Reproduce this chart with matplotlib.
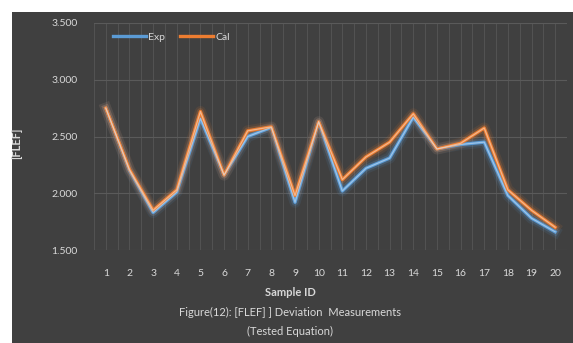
import numpy as np
import matplotlib
matplotlib.use("Agg")
import matplotlib.pyplot as plt
from matplotlib.patches import Rectangle
from matplotlib.ticker import FuncFormatter

plt.rcParams["font.family"] = ["Lato", "DejaVu Sans"]

# ---------------------------------------------------------------------------
# Data: FLEF per sample, measured vs calculated
# ---------------------------------------------------------------------------
sample_ids = list(range(1, 21))
flef_exp = [2750, 2200, 1830, 2010, 2660, 2160, 2500, 2580, 1920, 2630,
            2020, 2220, 2310, 2670, 2390, 2430, 2450, 1980, 1780, 1660]
flef_cal = [2750, 2210, 1850, 2030, 2720, 2160, 2550, 2585, 1980, 2630,
            2120, 2320, 2450, 2700, 2390, 2440, 2575, 2030, 1850, 1700]

BG = "#404040"
TXT = "#d9d9d9"
BLUE = "#5b9bd5"
ORANGE = "#ed7d31"


def thousands_dot(v, _pos):
    return f"{v:,.0f}".replace(",", ".")


fig = plt.figure(figsize=(5.73, 3.43), dpi=100, facecolor="white")
# dark chart area, leaving a thin white margin on top and left
fig.patches.append(Rectangle((12 / 573, 0), 1, 1 - 12 / 343,
                             transform=fig.transFigure, facecolor=BG,
                             edgecolor="none", zorder=-10))

ax = fig.add_axes([94 / 573, 1 - 250 / 343, (567 - 94) / 573, (250 - 23) / 343])
ax.set_facecolor(BG)

# faint gridlines
for x in np.arange(0.5, 20.6, 0.5):
    ax.axvline(x, color="#565656", linewidth=0.6, zorder=1)
for y in range(1500, 3501, 500):
    ax.axhline(y, color="#5a5a5a", linewidth=0.8, zorder=1)

# glow under each series, then the line itself with a pale core
series = ((flef_exp, BLUE, "#b9d6f0", "Exp"), (flef_cal, ORANGE, "#f7cfb2", "Cal"))
for vals, col, core, lbl in series:
    for lw, a in ((8, 0.10), (5, 0.22)):
        ax.plot(sample_ids, vals, color=col, linewidth=lw, alpha=a,
                solid_joinstyle="round", zorder=2)
    ax.plot(sample_ids, vals, color=col, linewidth=2.4, label=lbl,
            solid_joinstyle="round", zorder=3)
    ax.plot(sample_ids, vals, color=core, linewidth=0.9, alpha=0.7,
            solid_joinstyle="round", zorder=4)

ax.set_xlim(0.5, 20.5)
ax.set_ylim(1500, 3500)
ax.set_xticks(sample_ids)
ax.set_yticks(range(1500, 3501, 500))
ax.yaxis.set_major_formatter(FuncFormatter(thousands_dot))
ax.tick_params(colors=TXT, labelsize=7.5, length=0)
ax.tick_params(axis="x", pad=14)
ax.tick_params(axis="y", pad=12)
for s in ax.spines.values():
    s.set_visible(False)

ax.set_ylabel("[FLEF]", color=TXT, fontsize=8, fontweight="bold")
ax.yaxis.set_label_coords(-0.153, 0.47)

ax.legend(loc="upper left", bbox_to_anchor=(0.02, 1.0), ncol=2,
          frameon=False, fontsize=7.5, labelcolor=TXT,
          handlelength=3.2, handletextpad=0.2, columnspacing=1.4)

fig.text(290 / 573, 1 - 292 / 343, "Sample ID", color=TXT, fontsize=8,
         fontweight="bold", ha="center", va="center")
fig.text(290 / 573, 1 - 312 / 343, "Figure(12): [FLEF] ] Deviation  Measurements",
         color=TXT, fontsize=8, ha="center", va="center")
fig.text(290 / 573, 1 - 331 / 343, "(Tested Equation)",
         color=TXT, fontsize=8, ha="center", va="center")

fig.savefig("out.png", dpi=100, facecolor=fig.get_facecolor())
